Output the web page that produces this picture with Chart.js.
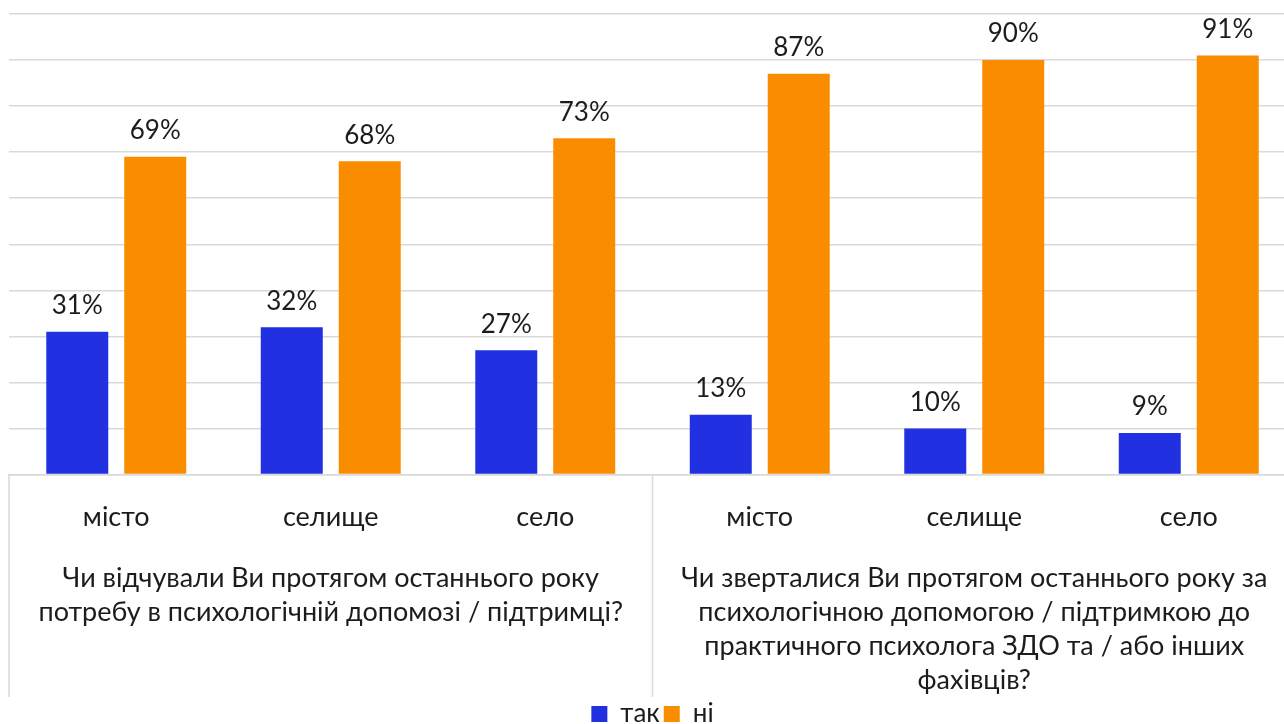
<!DOCTYPE html>
<html lang="uk">
<head>
<meta charset="utf-8">
<title>Потреба у психологічній допомозі</title>
<script src="https://cdn.jsdelivr.net/npm/chart.js@4/dist/chart.umd.min.js"></script>
<style>
  html, body { margin: 0; padding: 0; background: #ffffff; overflow: hidden; }
  #wrap { width: 1300px; height: 737px; }
</style>
</head>
<body>
<div id="wrap"><canvas id="chart" width="1300" height="737"></canvas></div>
<script>
  // categories (settlement type) and the two survey questions they belong to
  const CATEGORIES = ["місто", "селище", "село", "місто", "селище", "село"];
  const QUESTIONS = [
    ["Чи відчували Ви протягом останнього року", "потребу в психологічній допомозі / підтримці?"],
    ["Чи зверталися Ви протягом останнього року за", "психологічною допомогою / підтримкою до",
     "практичного психолога ЗДО та / або інших", "фахівців?"]
  ];
  const SERIES_NAMES = ["так", "ні"];
  const YES_VALUES = [31, 32, 27, 13, 10, 9];
  const NO_VALUES = [69, 68, 73, 87, 90, 91];

  const COLORS = {
    yes: "#2130E0",
    no: "#FA8C00",
    grid: "#d9d9d9",
    text: "#1c1c1c",
  };
  const FONT = "Lato, 'Open Sans', sans-serif";

  // value labels above each bar
  const barLabels = {
    id: "barLabels",
    afterDatasetsDraw(chart) {
      const ctx = chart.ctx;
      ctx.save();
      ctx.font = "26px " + FONT;
      ctx.fillStyle = COLORS.text;
      ctx.textAlign = "center";
      ctx.textBaseline = "middle";
      chart.data.datasets.forEach((ds, i) => {
        chart.getDatasetMeta(i).data.forEach((bar, j) => {
          ctx.fillText(ds.data[j] + "%", bar.x, bar.y - 26);
        });
      });
      ctx.restore();
    },
  };

  // vertical separators of the multi-level category axis
  const groupSeparators = {
    id: "groupSeparators",
    afterDraw(chart) {
      const x = chart.scales.x;
      const x2 = chart.scales.x2;
      const half = (x.getPixelForValue(1) - x.getPixelForValue(0)) / 2;
      const edges = [
        x.getPixelForValue(0) - half,
        x.getPixelForValue(2) + half,
        x.getPixelForValue(5) + half,
      ];
      const ctx = chart.ctx;
      ctx.save();
      ctx.strokeStyle = COLORS.grid;
      ctx.lineWidth = 1.5;
      edges.forEach((px) => {
        ctx.beginPath();
        ctx.moveTo(px, chart.chartArea.bottom);
        ctx.lineTo(px, x2.bottom);
        ctx.stroke();
      });
      ctx.restore();
    },
  };

  new Chart(document.getElementById("chart"), {
    type: "bar",
    data: {
      labels: CATEGORIES,
      datasets: [
        { label: SERIES_NAMES[0], data: YES_VALUES, backgroundColor: COLORS.yes },
        { label: SERIES_NAMES[1], data: NO_VALUES, backgroundColor: COLORS.no },
      ],
    },
    options: {
      responsive: false,
      animation: false,
      categoryPercentage: 0.727,
      barPercentage: 0.795,
      layout: { padding: { left: 9, right: 4, top: 14, bottom: 0 } },
      plugins: {
        tooltip: { enabled: false },
        legend: {
          position: "bottom",
          labels: {
            font: { family: FONT, size: 26 },
            color: COLORS.text,
            boxWidth: 16,
            boxHeight: 16,
            padding: 4,
          },
        },
      },
      scales: {
        y: {
          min: 0,
          max: 100,
          ticks: { display: false, stepSize: 10 },
          grid: { color: COLORS.grid, lineWidth: 1.5, drawTicks: false },
          border: { display: false },
        },
        x: {
          weight: 0,
          grid: { display: false, drawTicks: false },
          border: { display: true, color: COLORS.grid, width: 1.5 },
          ticks: {
            font: { family: FONT, size: 27 },
            color: COLORS.text,
            padding: 27,
            maxRotation: 0,
            autoSkip: false,
          },
        },
        x2: {
          type: "category",
          position: "bottom",
          weight: 1,
          labels: QUESTIONS,
          offset: true,
          grid: { display: false, drawTicks: false },
          border: { display: false },
          ticks: {
            font: { family: FONT, size: 27, lineHeight: 1.26 },
            color: COLORS.text,
            padding: 0,
            maxRotation: 0,
            autoSkip: false,
          },
        },
      },
    },
    plugins: [barLabels, groupSeparators],
  });
</script>
</body>
</html>
